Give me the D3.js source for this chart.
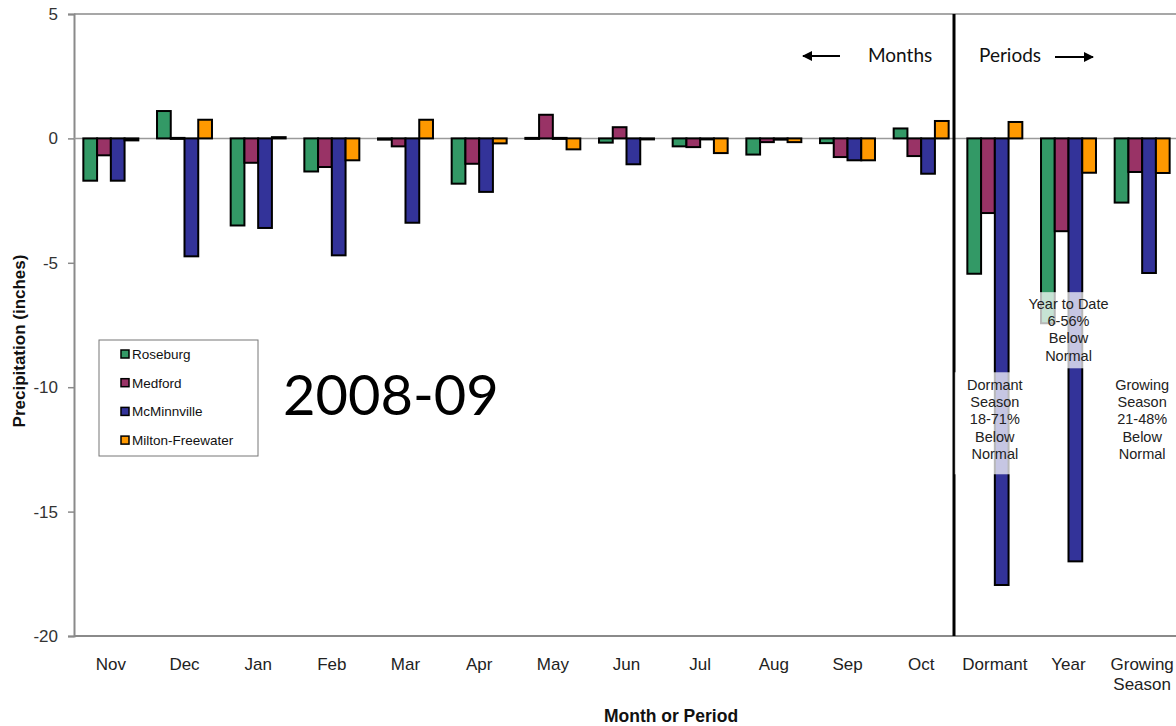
<!DOCTYPE html>
<html>
<head>
<meta charset="utf-8">
<script src="https://cdn.jsdelivr.net/npm/d3@7"></script>
<style>
  body { margin: 0; background: #fff; }
  svg { display: block; font-family: "Liberation Sans", Arial, sans-serif; }
</style>
</head>
<body>
<svg id="chart" width="1176" height="726"></svg>
<script>
// precipitation departure from normal (inches), Nov 2008 - Oct 2009 plus periods
const categories = ["Nov", "Dec", "Jan", "Feb", "Mar", "Apr", "May", "Jun", "Jul", "Aug", "Sep", "Oct", "Dormant", "Year", "Growing Season"];
const seriesNames = ["Roseburg", "Medford", "McMinnville", "Milton-Freewater"];
const roseburg        = [-1.7,  1.1, -3.5, -1.33, -0.05, -1.82,  0.02, -0.17, -0.32, -0.65, -0.19,  0.4,  -5.44, -7.43, -2.58];
const medford         = [-0.68, 0.02, -0.98, -1.15, -0.32, -1.02, 0.95,  0.45, -0.35, -0.15, -0.75, -0.71, -3.0, -3.73, -1.35];
const mcminnville     = [-1.7, -4.74, -3.6, -4.7,  -3.39, -2.15, 0.02, -1.04, -0.02, -0.05, -0.88, -1.42, -17.95, -17.0, -5.41];
const miltonFreewater = [-0.08, 0.75, 0.05, -0.88,  0.75, -0.2, -0.44, -0.02, -0.59, -0.15, -0.88,  0.7,  0.66, -1.38, -1.39];
const yTicks = [5, 0, -5, -10, -15, -20];
const colors = ["#339966", "#993366", "#333399", "#FF9900"];

const seriesValues = [roseburg, medford, mcminnville, miltonFreewater];

const svg = d3.select("#chart");
const margin = { top: 14, left: 74, right: 1179, bottom: 636 };

const x = d3.scaleBand()
  .domain(categories)
  .range([margin.left, margin.right])
  .padding(0);

const xs = d3.scaleBand()
  .domain(seriesNames)
  .range([0, x.bandwidth()])
  .paddingInner(0)
  .paddingOuter(0.68);

const y = d3.scaleLinear()
  .domain([-20, 5])
  .range([margin.bottom, margin.top]);

const color = d3.scaleOrdinal().domain(seriesNames).range(colors);

// plot area border (top + bottom + left)
svg.append("line")
  .attr("x1", margin.left).attr("x2", margin.right)
  .attr("y1", y(5)).attr("y2", y(5))
  .attr("stroke", "#8a8a8a").attr("stroke-width", 1.5);

svg.append("line")
  .attr("x1", margin.left).attr("x2", margin.right)
  .attr("y1", y(-20)).attr("y2", y(-20))
  .attr("stroke", "#8a8a8a").attr("stroke-width", 2);

// y axis
const yAxis = svg.append("g")
  .attr("transform", `translate(${margin.left},0)`)
  .call(d3.axisLeft(y).tickValues(yTicks).tickSize(6).tickPadding(10).tickFormat(d => String(d)));
yAxis.select(".domain").attr("stroke", "#8a8a8a").attr("stroke-width", 2);
yAxis.selectAll(".tick line").attr("stroke", "#8a8a8a").attr("stroke-width", 1.5);
yAxis.selectAll("text")
  .style("font-size", "17px")
  .style("font-family", "Liberation Sans, Arial, sans-serif")
  .attr("fill", "#333");

// zero line
svg.append("line")
  .attr("x1", margin.left).attr("x2", margin.right)
  .attr("y1", y(0)).attr("y2", y(0))
  .attr("stroke", "#9a9a9a").attr("stroke-width", 1.5);

// bars
const rows = categories.map((c, i) => ({
  cat: c,
  vals: seriesNames.map((s, j) => ({ name: s, value: seriesValues[j][i] }))
}));

const groups = svg.selectAll(".group")
  .data(rows)
  .join("g")
  .attr("class", "group")
  .attr("transform", d => `translate(${x(d.cat)},0)`);

groups.selectAll("rect")
  .data(d => d.vals)
  .join("rect")
  .attr("x", d => xs(d.name))
  .attr("width", xs.bandwidth())
  .attr("y", d => y(Math.max(0, d.value)))
  .attr("height", d => Math.max(1, Math.abs(y(d.value) - y(0))))
  .attr("fill", d => color(d.name))
  .attr("stroke", "#000")
  .attr("stroke-width", 2);

// divider between months and periods
const divX = x("Dormant") - 4;
svg.append("line")
  .attr("x1", divX).attr("x2", divX)
  .attr("y1", y(5)).attr("y2", y(-20))
  .attr("stroke", "#000").attr("stroke-width", 3);

// x tick labels
const xLabels = svg.append("g");
categories.forEach(c => {
  const t = xLabels.append("text")
    .attr("x", x(c) + x.bandwidth() / 2)
    .attr("y", 670)
    .attr("text-anchor", "middle")
    .attr("fill", "#222")
    .style("font-size", "17px");
  c.split(" ").forEach((w, i) => {
    t.append("tspan")
      .attr("x", x(c) + x.bandwidth() / 2)
      .attr("dy", i === 0 ? 0 : 20)
      .text(w);
  });
});

// axis titles
svg.append("text")
  .attr("x", 671).attr("y", 722)
  .attr("text-anchor", "middle")
  .style("font-size", "17.5px")
  .style("font-weight", "bold")
  .attr("fill", "#111")
  .text("Month or Period");

svg.append("text")
  .attr("transform", "translate(25,341) rotate(-90)")
  .attr("text-anchor", "middle")
  .style("font-size", "17px")
  .style("font-weight", "bold")
  .attr("fill", "#111")
  .text("Precipitation (inches)");

// semi-transparent annotation boxes
function note(cat, top, bottom, halfW, lines, lineStart) {
  const cx = x(cat) + x.bandwidth() / 2;
  svg.append("rect")
    .attr("x", cx - halfW).attr("width", halfW * 2)
    .attr("y", y(top)).attr("height", y(bottom) - y(top))
    .attr("fill", "#fff").attr("opacity", 0.72);
  const t = svg.append("text")
    .attr("text-anchor", "middle")
    .attr("fill", "#222")
    .style("font-size", "14.5px");
  lines.forEach((l, i) => {
    t.append("tspan").attr("x", cx).attr("y", y(lineStart) + i * 17.3).text(l);
  });
}
note("Year", -6.18, -9.24, 42, ["Year to Date", "6-56%", "Below", "Normal"], -6.85);
note("Dormant", -9.4, -13.5, 40, ["Dormant", "Season", "18-71%", "Below", "Normal"], -10.1);
note("Growing Season", -9.4, -13.5, 40, ["Growing", "Season", "21-48%", "Below", "Normal"], -10.1);

// Months / Periods labels with arrows
svg.append("defs").append("marker")
  .attr("id", "arrow")
  .attr("viewBox", "0 0 10 10")
  .attr("refX", 9).attr("refY", 5)
  .attr("markerWidth", 5).attr("markerHeight", 5)
  .attr("orient", "auto")
  .append("path").attr("d", "M0,0 L10,5 L0,10 Z").attr("fill", "#000");

svg.append("line")
  .attr("x1", 840).attr("x2", 803).attr("y1", 56).attr("y2", 56)
  .attr("stroke", "#000").attr("stroke-width", 2)
  .attr("marker-end", "url(#arrow)");
svg.append("text").attr("x", 868).attr("y", 62)
  .style("font-family", "Lato, 'Open Sans', sans-serif")
  .style("font-size", "19px").attr("fill", "#111").text("Months");
svg.append("text").attr("x", 979).attr("y", 62)
  .style("font-family", "Lato, 'Open Sans', sans-serif")
  .style("font-size", "19px").attr("fill", "#111").text("Periods");
svg.append("line")
  .attr("x1", 1055).attr("x2", 1093).attr("y1", 57).attr("y2", 57)
  .attr("stroke", "#000").attr("stroke-width", 2)
  .attr("marker-end", "url(#arrow)");

// season label
svg.append("text")
  .attr("x", 283).attr("y", 415)
  .style("font-family", "Lato, 'Open Sans', sans-serif")
  .style("font-size", "56px")
  .attr("fill", "#000")
  .text("2008-09");

// legend
const legend = svg.append("g").attr("transform", "translate(99,340)");
legend.append("rect")
  .attr("width", 159).attr("height", 116)
  .attr("fill", "#fff").attr("stroke", "#777").attr("stroke-width", 1);
seriesNames.forEach((s, i) => {
  const ly = 14 + i * 28.7;
  legend.append("rect")
    .attr("x", 22).attr("y", ly - 4).attr("width", 8).attr("height", 8)
    .attr("fill", color(s)).attr("stroke", "#000").attr("stroke-width", 1.5);
  legend.append("text")
    .attr("x", 33).attr("y", ly + 5)
    .style("font-size", "13.5px").attr("fill", "#111")
    .text(s);
});
</script>
</body>
</html>
